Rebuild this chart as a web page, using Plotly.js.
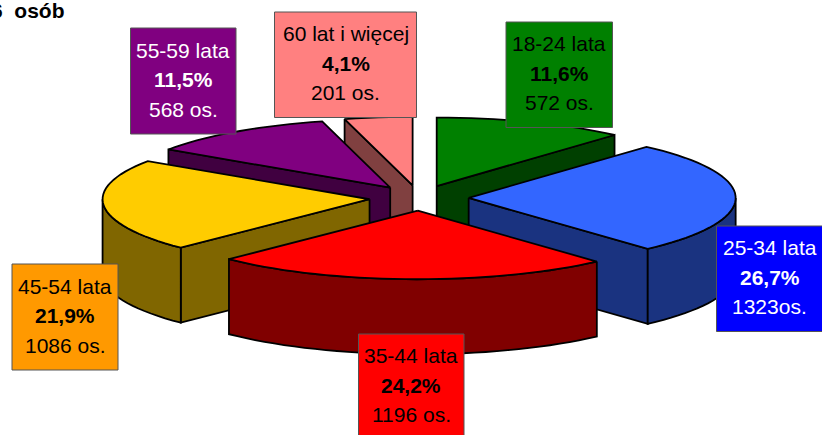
<!DOCTYPE html>
<html>
<head>
<meta charset="utf-8">
<script src="https://cdn.plot.ly/plotly-3.0.1.min.js"></script>
<style>html,body{margin:0;padding:0;background:#fff;overflow:hidden}#chart{width:822px;height:435px}</style>
</head>
<body>
<div id="chart"></div>
<script>
// Data, clockwise from 12 o'clock
var categories = ['18-24 lata','25-34 lata','35-44 lata','45-54 lata','55-59 lata','60 lat i więcej'];
var percents   = [11.6, 26.7, 24.2, 21.9, 11.5, 4.1];
var countTexts = ['572 os.','1323os.','1196 os.','1086 os.','568 os.','201 os.'];
var titleText  = '6\u00A0\u00A0osób';

// Styles
var topColors   = ['#008000','#3366FF','#FF0000','#FFCC00','#800080','#FF8080'];
var wallColors  = ['#004000','#1A3380','#800000','#806600','#400040','#804040'];
var boxColors   = ['#008000','#0000FF','#FF0000','#FF9900','#800080','#FF8080'];
var textColors  = ['#000000','#FFFFFF','#000000','#000000','#FFFFFF','#000000'];
// Label boxes: left, top, right, bottom in page pixels
var boxes = [[506,22,612.5,127.5],[716.5,226,823,331.5],[358.5,334,464,439],[12,264,118,370],[130.5,28,236,134],[274.5,12,416.5,117.5]];

// Pie geometry
var cx = 419, cy = 198, rx = 267, ry = 68.5, depth = 75, explode = 0.186;
var drawOrder = [5,4,0,3,1,2];
var FONT = 'Liberation Sans, Arial, sans-serif';

function rad(d){return d*Math.PI/180;}
function pt(c,t,dz){return [c[0]+rx*Math.sin(rad(t)), c[1]-ry*Math.cos(rad(t))+(dz||0)];}
function arc(c,a,b,dz){var o=[],n=Math.max(2,Math.ceil(Math.abs(b-a)/2.5));for(var i=0;i<=n;i++){o.push(pt(c,a+(b-a)*i/n,dz));}return o;}
function poly(points,fill){
  var xs=points.map(function(p){return p[0];}), ys=points.map(function(p){return p[1];});
  xs.push(xs[0]); ys.push(ys[0]);
  return {type:'scatter',mode:'lines',x:xs,y:ys,fill:'toself',fillcolor:fill,
    line:{color:'#000',width:1.8,simplify:false},hoverinfo:'skip',showlegend:false};
}

var starts=[],acc=0;
percents.forEach(function(p){starts.push(acc*3.6);acc+=p;});

var traces=[];
drawOrder.forEach(function(i){
  var a=starts[i], b=a+percents[i]*3.6, m=(a+b)/2;
  var c=[cx+explode*rx*Math.sin(rad(m)), cy-explode*ry*Math.cos(rad(m))];
  var bottom=[c[0],c[1]+depth];
  if(Math.sin(rad(a))<-1e-6){ // radial wall at start edge
    var p=pt(c,a); traces.push(poly([c,p,pt(c,a,depth),bottom],wallColors[i]));
  }
  if(Math.sin(rad(b))>1e-6){ // radial wall at end edge
    var q=pt(c,b); traces.push(poly([c,q,pt(c,b,depth),bottom],wallColors[i]));
  }
  var f0=Math.max(a,90), f1=Math.min(b,270);
  if(f1>f0){ // outer wall
    traces.push(poly(arc(c,f0,f1,0).concat(arc(c,f1,f0,depth)),wallColors[i]));
  }
  traces.push(poly([c].concat(arc(c,a,b,0)),topColors[i]));
});

var shapes=[], annotations=[];
categories.forEach(function(name,i){
  var bx=boxes[i], mx=(bx[0]+bx[2])/2, my=(bx[1]+bx[3])/2-1.5;
  shapes.push({type:'rect',layer:'above',xref:'x',yref:'y',x0:bx[0],y0:bx[1],x1:bx[2],y1:bx[3],
    fillcolor:boxColors[i],line:{color:'#555',width:1}});
  var lines=[name,'<b>'+percents[i].toFixed(1).replace('.',',')+'%</b>',countTexts[i]];
  lines.forEach(function(t,k){
    annotations.push({xref:'x',yref:'y',x:mx,y:my+(k-1)*29.5,text:t,showarrow:false,
      xanchor:'center',yanchor:'middle',font:{family:FONT,size:21,color:textColors[i]}});
  });
});
annotations.push({xref:'x',yref:'y',x:67,y:10,text:'<b>'+titleText+'</b>',showarrow:false,
  xanchor:'right',yanchor:'middle',font:{family:FONT,size:21,color:'#000'}});

Plotly.newPlot('chart',traces,{
  width:822,height:435,margin:{l:0,r:0,t:0,b:0},
  paper_bgcolor:'#fff',plot_bgcolor:'#fff',showlegend:false,
  xaxis:{range:[0,822],visible:false,fixedrange:true},
  yaxis:{range:[435,0],visible:false,fixedrange:true},
  shapes:shapes,annotations:annotations
},{displayModeBar:false,staticPlot:true});
</script>
</body>
</html>
